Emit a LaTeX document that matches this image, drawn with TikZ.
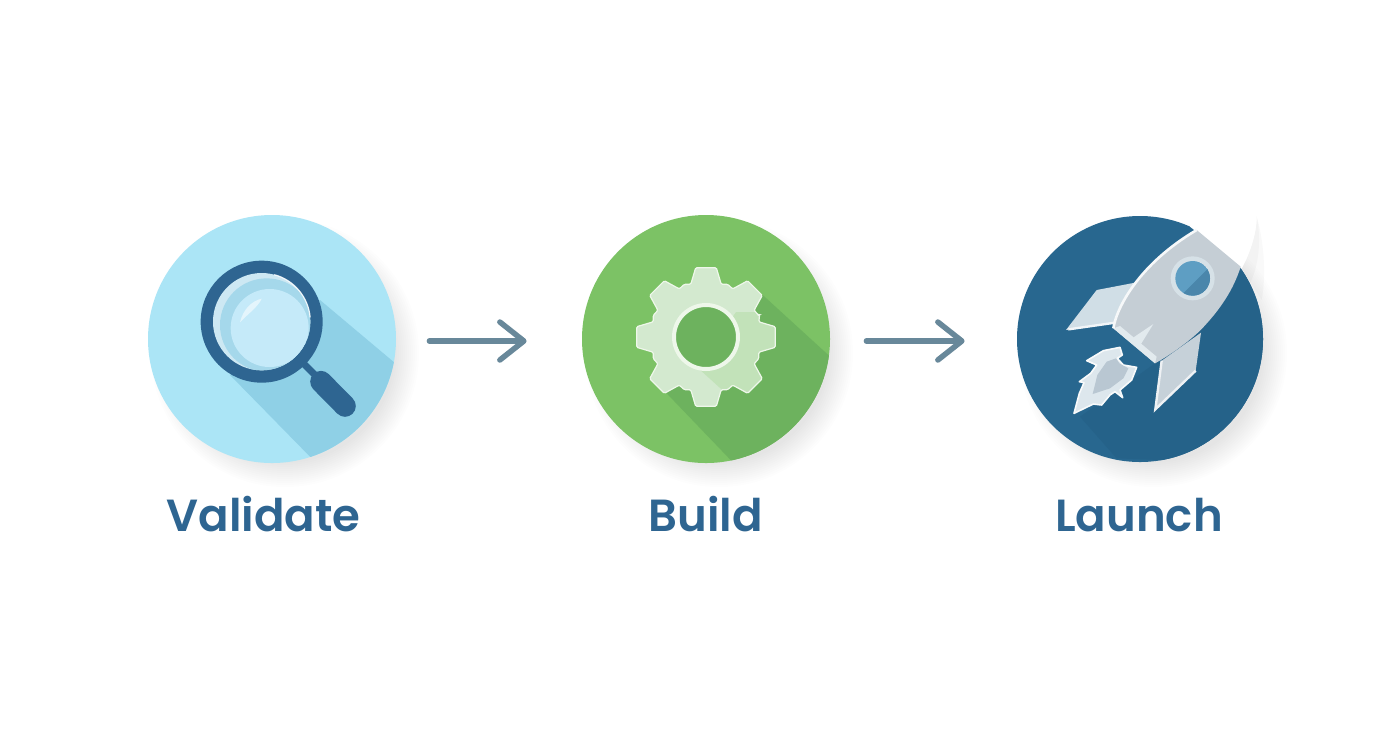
\documentclass[tikz,border=0pt]{standalone}
\usepackage{fontspec}
\setmainfont{Poppins}
\newfontfamily\labelfont{Poppins SemiBold}
\usetikzlibrary{arrows.meta}
\definecolor{ink}{HTML}{2E6591}
\definecolor{arrowc}{HTML}{68889A}
\definecolor{skyc}{HTML}{ABE5F6}
\definecolor{skys}{HTML}{8FD0E6}
\definecolor{lensa}{HTML}{CDE8F3}
\definecolor{lensb}{HTML}{A5D8EB}
\definecolor{lensc}{HTML}{C5EAF9}
\definecolor{greenc}{HTML}{7CC265}
\definecolor{greens}{HTML}{6DB25E}
\definecolor{navyc}{HTML}{28678F}
\definecolor{navys}{HTML}{256289}
\definecolor{gearl}{HTML}{D3E9CF}
\definecolor{gearm}{HTML}{C2E2B9}
\definecolor{gearr}{HTML}{EEF7EA}
\definecolor{steel}{HTML}{C5CED5}
\definecolor{steell}{HTML}{E2EAEE}
\definecolor{finl}{HTML}{D0DEE6}
\definecolor{finr}{HTML}{C6D1D9}
\definecolor{winr}{HTML}{D6E1E7}
\definecolor{wina}{HTML}{5E9EC3}
\definecolor{winb}{HTML}{4A86AB}
\definecolor{flameo}{HTML}{DDE7ED}
\definecolor{flamei}{HTML}{B9C7D2}
\definecolor{shad}{HTML}{404448}
\tikzset{
  disc/.style={circle,inner sep=0pt,minimum size=#1*0.5pt},
  steplabel/.style={inner sep=0pt,anchor=base,text=ink,font=\labelfont\fontsize{22.5pt}{28pt}\selectfont},
  flowarrow/.style={draw=arrowc,line width=2.75pt,line cap=round,
    -{Straight Barb[length=12pt,width=19pt,line width=2.75pt,round]}},
  zv/.style={shift={(130,200)},x=0.16667pt,y=-0.16667pt},
  zb/.style={shift={(570,200)},x=0.16667pt,y=-0.16667pt},
  zl/.style={shift={(1000,200)},x=0.16667pt,y=-0.16667pt},
  zf/.style={shift={(1060,330)},x=0.16667pt,y=-0.16667pt},
}
\newcommand{\softshadow}[2]{%
  \foreach \rr in {110,112,...,134}{\fill[shad,opacity=0.009] (#1+13,#2+14) circle[radius=\rr];}}
\newcommand{\gearpath}[1]{%
  \path[#1,rounded corners=0.6pt] (-22.5:58)
    \foreach \a in {0,45,...,315}{
      -- (\a-16:55) -- (\a-8.5:70) -- (\a+8.5:70) -- (\a+16:55) -- (\a+22.5:57)
    } -- cycle;}
\begin{document}
\begin{tikzpicture}[x=0.5pt,y=-0.5pt]
\useasboundingbox (0,0) rectangle (1392,752);
\fill[white] (0,0) rectangle (1392,752);
% shadows
\softshadow{272}{339}
\softshadow{706}{339}
\softshadow{1140}{339}
% discs
\node[disc=248,fill=skyc] (validate) at (272,339) {};
\node[disc=248,fill=greenc] (build) at (706,339) {};
\node[disc=246,fill=navyc] (launch) at (1140,339) {};
% ---------- magnifier
\begin{scope}
\clip (272,339) circle[radius=124];
\begin{scope}[zv]
\fill[skys] (570,300) -- (1010,670) -- (780,1015) -- (300,525) -- cycle;
\end{scope}
\end{scope}
\begin{scope}[zv]
\draw[ink,line width=3.4pt] (520,490) -- (575,545);
\draw[ink,line width=10.8pt,line cap=round] (573,545) -- (645,618);
\fill[ink] (395,365) circle[radius=183];
\fill[lensa] (395,365) circle[radius=146];
\begin{scope}
\clip (395,365) circle[radius=146];
\fill[lensb] (410,375) circle[radius=140];
\fill[lensc] (419,384) circle[radius=117];
\end{scope}
\fill[white,opacity=0.55] (330,367) .. controls (340,325) and (368,302) .. (395,296) .. controls (385,320) and (350,345) .. cycle;
\draw[white,opacity=0.85,line width=0.6pt] (395,365) ++(-5:146) arc[start angle=-5,end angle=-75,radius=146];
\end{scope}
% ---------- gear
\begin{scope}
\clip (706,339) circle[radius=124];
\begin{scope}[zb]
\fill[greens] (578,285) -- (972,645) -- (670,976) -- (290,580) -- cycle;
\end{scope}
\end{scope}
\begin{scope}[shift={(706,337)}]
\gearpath{fill=gearl}
\begin{scope}
\gearpath{clip}
\fill[gearm] (30,-25) -- (49,-25) -- (57,-37) -- (150,55) -- (30,150) -- (24,60) -- (-8,31) -- cycle;
\end{scope}
\gearpath{draw=gearr,line width=0.6pt}
\fill[greens,draw=gearr,line width=2pt] (0,0) circle[radius=32];
\end{scope}
% ---------- rocket
\begin{scope}
\clip (1140,339) circle[radius=123];
\begin{scope}[zl]
\fill[navys] (240,650) -- (350,775) -- (1000,800) -- (1000,300) -- (725,205) -- (465,490) -- cycle;
\end{scope}
\end{scope}
\begin{scope}[zl]
\fill[shad,opacity=0.03] (770,50) .. controls (770,100) and (750,160) .. (725,205) -- (785,300) .. controls (800,220) and (790,120) .. cycle;
\fill[shad,opacity=0.03] (770,50) .. controls (770,100) and (750,160) .. (725,205) -- (750,250) .. controls (775,200) and (785,120) .. cycle;
\fill[white] (570,80) -- (725,205) .. controls (750,160) and (770,100) .. (770,50) -- (600,20) -- cycle;
% fins
\fill[finl] (405,248) -- (290,270) -- (198,390) -- (345,368) -- cycle;
\draw[white!70!finl,line width=1.2pt] (205,388) -- (345,368);
\fill[finr] (603,398) -- (485,482) -- (464,632) -- (587,512) -- cycle;
\draw[white!70!finr,line width=1.2pt] (485,482) -- (466,628) -- (587,512);
% body
\fill[steel] (590,90) -- (722,200) .. controls (700,270) and (660,330) .. (600,392) .. controls (560,430) and (510,465) .. (465,490) -- (340,385) .. controls (350,320) and (420,190) .. cycle;
\fill[steell] (340,385) -- (360,378) -- (470,470) -- (465,490) -- cycle;
\fill[steell] (460,372) -- (418,440) -- (392,418) -- cycle;
\draw[white!85!steel,line width=1.3pt] (340,385) .. controls (350,320) and (420,190) .. (590,90);
% window
\fill[winr] (578,235) circle[radius=66];
\begin{scope}
\clip (578,235) circle[radius=52];
\fill[wina] (578,235) circle[radius=52];
\fill[winb] (640,190) -- (640,290) -- (540,290) -- cycle;
\end{scope}
\end{scope}
% flame
\begin{scope}[zf]
\fill[flameo,draw=white!80!flameo,line width=0.8pt,line join=round] (42,250) -- (58,190) -- (72,158) -- (58,155) -- (92,130) -- (110,105) -- (80,92) -- (130,62) -- (180,52) -- (187,75) -- (172,85) -- (190,105) -- (230,112) -- (215,150) -- (180,180) -- (188,203) -- (165,185) -- (150,195) -- (125,225) -- (100,222) -- cycle;
\fill[flamei] (98,192) -- (112,135) -- (140,95) -- (168,85) -- (178,100) -- (205,115) -- (190,145) -- (150,175) -- cycle;
\end{scope}
% connectors
\draw[flowarrow,shorten <=16.5pt,shorten >=27.5pt] ([yshift=-1pt]validate.east) -- ([yshift=-1pt]build.west);
\draw[flowarrow,shorten <=18pt,shorten >=26pt] ([yshift=-1pt]build.east) -- ([yshift=-1pt]launch.west);
% labels
\node[steplabel] (lv) at (263.5,531) {Validate};
\node[steplabel] (lb) at (705.5,531) {Build};
\node[steplabel] (ll) at (1139,531) {Launch};
\end{tikzpicture}
\end{document}
